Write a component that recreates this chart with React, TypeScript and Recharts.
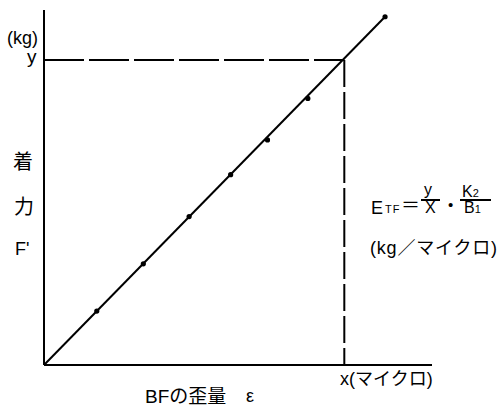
import React from "react";
import {
    ComposedChart,
    Line,
    Scatter,
    XAxis,
    YAxis,
    ReferenceLine,
} from "recharts";

// strain (x) and applied force (y) in arbitrary units
const strain = [13.6, 25.6, 37.4, 48.1, 57.6, 68.0, 87.9];
const force = [15.2, 28.5, 41.8, 53.6, 63.4, 75.1, 98.1];
// fitted straight line through the origin
const fitStrain = [0, 87.9];
const fitForce = [0, 98.1];
// reading point (x, y) for the dashed guide lines
const readX = 77.4;
const readY = 85.9;

const points = strain.map((e, i) => ({ e, f: force[i] }));
const fit = fitStrain.map((e, i) => ({ e, f: fitForce[i] }));

const font = '"Liberation Sans", Arial, "Noto Sans CJK JP", sans-serif';

const txt = (left: number, top: number, size: number): React.CSSProperties => ({
    position: "absolute",
    left,
    top,
    fontSize: size,
    lineHeight: 1,
    whiteSpace: "nowrap",
});

export default function App() {
    return (
        <div
            style={{
                position: "absolute",
                left: 0,
                top: 0,
                width: 501,
                height: 407,
                background: "#fff",
                fontFamily: font,
                color: "#000",
            }}
        >
            <ComposedChart
                width={501}
                height={407}
                margin={{ top: 10, right: 69, left: 43, bottom: 41 }}
            >
                <XAxis
                    dataKey="e"
                    type="number"
                    domain={[0, 100]}
                    tick={false}
                    tickLine={false}
                    height={1}
                    axisLine={{ stroke: "#000", strokeWidth: 2 }}
                />
                <YAxis
                    type="number"
                    domain={[0, 100]}
                    tick={false}
                    tickLine={false}
                    width={1}
                    axisLine={{ stroke: "#000", strokeWidth: 2 }}
                />
                <ReferenceLine
                    segment={[
                        { x: 0, y: readY },
                        { x: readX, y: readY },
                    ]}
                    stroke="#000"
                    strokeWidth={2}
                    strokeDasharray="40 5"
                />
                <ReferenceLine
                    segment={[
                        { x: readX, y: readY },
                        { x: readX, y: 0 },
                    ]}
                    stroke="#000"
                    strokeWidth={2}
                    strokeDasharray="27 5"
                />
                <Line
                    data={fit}
                    dataKey="f"
                    type="linear"
                    stroke="#000"
                    strokeWidth={2}
                    dot={false}
                    isAnimationActive={false}
                />
                <Scatter
                    data={points}
                    dataKey="f"
                    fill="#000"
                    shape={(p: any) => <circle cx={p.cx} cy={p.cy} r={2.6} fill="#000" />}
                    isAnimationActive={false}
                />
            </ComposedChart>

            {/* y axis labels */}
            <div style={txt(7, 29, 18)}>(kg)</div>
            <div style={txt(27, 47, 19)}>y</div>
            <div style={txt(13, 152, 20)}>着</div>
            <div style={txt(14, 197, 20)}>力</div>
            <div style={txt(15, 240, 18)}>F'</div>

            {/* formula */}
            <div style={txt(371, 199, 18)}>E</div>
            <div style={{ ...txt(385, 204, 11), letterSpacing: 1 }}>TF</div>
            <div style={{ ...txt(401, 194, 19), fontFamily: '"Noto Sans CJK JP"' }}>＝</div>
            <div style={{ ...txt(424, 182, 16) }}>y</div>
            <div style={{ position: "absolute", left: 421, top: 199, width: 19, height: 2, background: "#000" }} />
            <div style={{ ...txt(425, 200, 16) }}>X</div>
            <div style={txt(448, 197, 15)}>•</div>
            <div style={txt(462, 184, 16)}>
                K<span style={{ fontSize: 11 }}>2</span>
            </div>
            <div style={{ position: "absolute", left: 460, top: 199, width: 31, height: 2, background: "#000" }} />
            <div style={txt(464, 200, 16)}>
                B<span style={{ fontSize: 11 }}>1</span>
            </div>
            <div style={{ ...txt(370, 239, 18), letterSpacing: 0.8 }}>(kg／マイクロ)</div>

            {/* x axis labels */}
            <div style={txt(340, 370, 18)}>x(マイクロ)</div>
            <div style={txt(145, 387, 19)}>BFの歪量</div>
            <div style={txt(246, 387, 18)}>ε</div>
        </div>
    );
}
